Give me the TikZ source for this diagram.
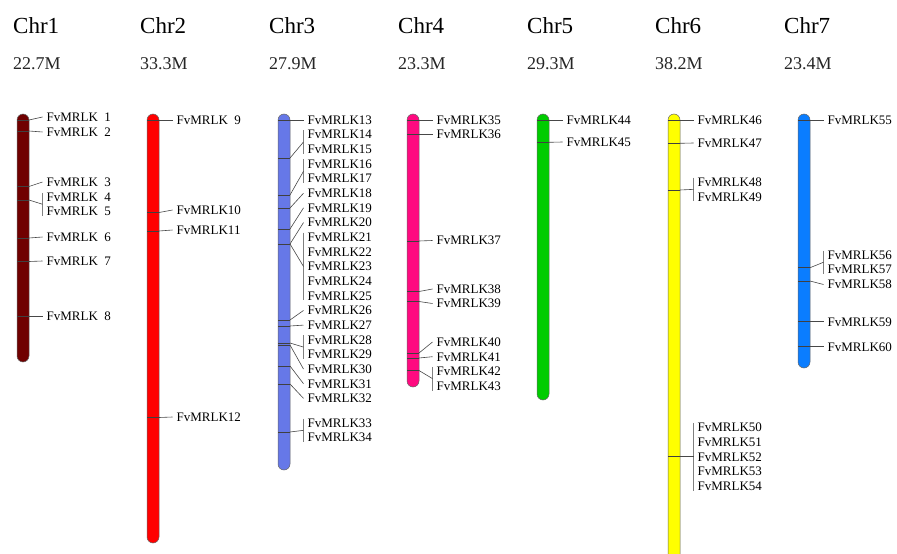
\documentclass[tikz,border=0pt]{standalone}
\usepackage{fontspec}
\setmainfont{Liberation Serif}
\usetikzlibrary{calc}
\definecolor{cA}{RGB}{112,0,0}
\definecolor{cB}{RGB}{255,0,0}
\definecolor{cC}{RGB}{102,120,232}
\definecolor{cD}{RGB}{255,10,128}
\definecolor{cE}{RGB}{0,204,0}
\definecolor{cF}{RGB}{255,255,0}
\definecolor{cG}{RGB}{10,125,255}
\newcommand{\gn}[1]{FvMRLK#1}
\newcommand{\gs}[1]{FvMRLK\hphantom{0}#1}
\begin{document}
\begin{tikzpicture}[x=1pt,y=-1pt,
  gene/.style={anchor=west, inner xsep=4pt, inner ysep=0pt, font=\fontsize{13}{15}\selectfont, text height=8.6pt, text depth=0pt},
  ttl/.style={anchor=base west, inner sep=0pt, font=\fontsize{23}{27}\selectfont},
  sz/.style={anchor=base west, inner sep=0pt, font=\fontsize{18}{21}\selectfont, text=black!85},
  conn/.style={draw=black!72, line width=0.6pt},
  brk/.style={draw=black!50, line width=0.6pt},
  mk/.style={draw=black!75, line width=0.7pt},
  chrom/.style={draw=black!60, line width=0.5pt, rounded corners=6pt}]
\useasboundingbox (0,0) rectangle (897,554);
\clip (0,0) rectangle (897,554);

% titles
\node[ttl] (t1) at (13,34) {Chr1};
\node[ttl] (t2) at (140,34) {Chr2};
\node[ttl] (t3) at (269,34) {Chr3};
\node[ttl] (t4) at (398,34) {Chr4};
\node[ttl] (t5) at (527,34) {Chr5};
\node[ttl] (t6) at (655,34) {Chr6};
\node[ttl] (t7) at (784,34) {Chr7};
\node[sz] (s1) at (13,69) {22.7M};
\node[sz] (s2) at (140,69) {33.3M};
\node[sz] (s3) at (269,69) {27.9M};
\node[sz] (s4) at (398,69) {23.3M};
\node[sz] (s5) at (527,69) {29.3M};
\node[sz] (s6) at (655,69) {38.2M};
\node[sz] (s7) at (784,69) {23.4M};

% chromosomes
\draw[chrom, fill=cA] (17,114) rectangle (29,362);
\draw[chrom, fill=cB] (147,114) rectangle (159,543);
\draw[chrom, fill=cC] (278,114) rectangle (290,470);
\draw[chrom, fill=cD] (407,114) rectangle (419,387);
\draw[chrom, fill=cE] (537,114) rectangle (549,400);
\draw[chrom, fill=cF] (668,114) rectangle (680,575);
\draw[chrom, fill=cG] (798,114) rectangle (810,368);

% ---------- Chr1
\coordinate (m1) at (29,120);
\coordinate (m2) at (29,131);
\coordinate (m3) at (29,186.5);
\coordinate (m4) at (29,200);
\coordinate (m6) at (29,238);
\coordinate (m7) at (29,261.5);
\coordinate (m8) at (29,316.5);
\node[gene] (g1) at (42.5,117) {\gs{1}};
\node[gene] (g2) at (42.5,132) {\gs{2}};
\node[gene] (g3) at (42.5,182) {\gs{3}};
\node[gene] (g4) at (42.5,197) {\gs{4}};
\node[gene] (g5) at (42.5,211.5) {\gs{5}};
\node[gene] (g6) at (42.5,237) {\gs{6}};
\node[gene] (g7) at (42.5,261) {\gs{7}};
\node[gene] (g8) at (42.5,316.5) {\gs{8}};
\foreach \m in {1,2,3,4,6,7,8} {\draw[mk] (m\m) -- ++(-12,0);}
\draw[conn] (m1) -- (g1.west);
\draw[conn] (m2) -- (g2.west);
\draw[conn] (m3) -- (g3.west);
\draw[brk] ([yshift=4.5pt]g4.west) -- ([yshift=-4.5pt]g5.west);
\draw[conn] (m4) -- ($(g4.west)!0.5!(g5.west)$);
\draw[conn] (m6) -- (g6.west);
\draw[conn] (m7) -- (g7.west);
\draw[conn] (m8) -- (g8.west);

% ---------- Chr2
\coordinate (m9) at (159,120);
\coordinate (m10) at (159,212.5);
\coordinate (m11) at (159,231);
\coordinate (m12) at (159,417.5);
\node[gene] (g9) at (172.5,120) {\gs{9}};
\node[gene] (g10) at (172.5,210) {\gn{10}};
\node[gene] (g11) at (172.5,230) {\gn{11}};
\node[gene] (g12) at (172.5,417) {\gn{12}};
\foreach \m in {9,10,11,12} {\draw[mk] (m\m) -- ++(-12,0); \draw[conn] (m\m) -- (g\m.west);}

% ---------- Chr3
\coordinate (m13) at (290,120);
\coordinate (m14) at (290,158);
\coordinate (m16) at (290,195);
\coordinate (m18) at (290,208);
\coordinate (m19) at (290,229);
\coordinate (m20) at (290,244);
\coordinate (m26) at (290,320);
\coordinate (m27) at (290,326);
\coordinate (m28) at (290,343);
\coordinate (m30) at (290,345);
\coordinate (m31) at (290,366);
\coordinate (m32) at (290,384);
\coordinate (m33) at (290,432);
\node[gene] (g13) at (303.5,120) {\gn{13}};
\node[gene] (g14) at (303.5,134.65) {\gn{14}};
\node[gene] (g15) at (303.5,149.3) {\gn{15}};
\node[gene] (g16) at (303.5,163.95) {\gn{16}};
\node[gene] (g17) at (303.5,178.6) {\gn{17}};
\node[gene] (g18) at (303.5,193.25) {\gn{18}};
\node[gene] (g19) at (303.5,207.9) {\gn{19}};
\node[gene] (g20) at (303.5,222.55) {\gn{20}};
\node[gene] (g21) at (303.5,237.2) {\gn{21}};
\node[gene] (g22) at (303.5,251.85) {\gn{22}};
\node[gene] (g23) at (303.5,266.5) {\gn{23}};
\node[gene] (g24) at (303.5,281.15) {\gn{24}};
\node[gene] (g25) at (303.5,295.8) {\gn{25}};
\node[gene] (g26) at (303.5,310.45) {\gn{26}};
\node[gene] (g27) at (303.5,325.1) {\gn{27}};
\node[gene] (g28) at (303.5,339.75) {\gn{28}};
\node[gene] (g29) at (303.5,354.4) {\gn{29}};
\node[gene] (g30) at (303.5,369.05) {\gn{30}};
\node[gene] (g31) at (303.5,383.7) {\gn{31}};
\node[gene] (g32) at (303.5,398.35) {\gn{32}};
\node[gene] (g33) at (303.5,423) {\gn{33}};
\node[gene] (g34) at (303.5,437.65) {\gn{34}};
\foreach \m in {13,14,16,18,19,20,26,27,28,30,31,32,33} {\draw[mk] (m\m) -- ++(-12,0);}
\draw[conn] (m13) -- (g13.west);
\draw[brk] ([yshift=4.5pt]g14.west) -- ([yshift=-4.5pt]g15.west);
\draw[conn] (m14) -- ($(g14.west)!0.5!(g15.west)$);
\draw[brk] ([yshift=4.5pt]g16.west) -- ([yshift=-4.5pt]g17.west);
\draw[conn] (m16) -- ($(g16.west)!0.5!(g17.west)$);
\draw[conn] (m18) -- (g18.west);
\draw[conn] (m19) -- (g19.west);
\draw[conn] (m20) -- (g20.west);
\draw[brk] ([yshift=4.5pt]g21.west) -- ([yshift=-4.5pt]g25.west);
\draw[conn] (m20) -- ($(g21.west)!0.5!(g25.west)$);
\draw[conn] (m26) -- (g26.west);
\draw[conn] (m27) -- (g27.west);
\draw[brk] ([yshift=4.5pt]g28.west) -- ([yshift=-4.5pt]g29.west);
\draw[conn] (m28) -- ($(g28.west)!0.5!(g29.west)$);
\draw[conn] (m30) -- (g30.west);
\draw[conn] (m31) -- (g31.west);
\draw[conn] (m32) -- (g32.west);
\draw[brk] ([yshift=4.5pt]g33.west) -- ([yshift=-4.5pt]g34.west);
\draw[conn] (m33) -- ($(g33.west)!0.5!(g34.west)$);

% ---------- Chr4
\coordinate (m35) at (419,120);
\coordinate (m36) at (419,134.5);
\coordinate (m37) at (419,241);
\coordinate (m38) at (419,291.5);
\coordinate (m39) at (419,301.5);
\coordinate (m40) at (419,353);
\coordinate (m41) at (419,358);
\coordinate (m42) at (419,370.5);
\node[gene] (g35) at (432.5,120) {\gn{35}};
\node[gene] (g36) at (432.5,134.5) {\gn{36}};
\node[gene] (g37) at (432.5,240.5) {\gn{37}};
\node[gene] (g38) at (432.5,289) {\gn{38}};
\node[gene] (g39) at (432.5,303.5) {\gn{39}};
\node[gene] (g40) at (432.5,342) {\gn{40}};
\node[gene] (g41) at (432.5,356.7) {\gn{41}};
\node[gene] (g42) at (432.5,371.3) {\gn{42}};
\node[gene] (g43) at (432.5,386) {\gn{43}};
\foreach \m in {35,36,37,38,39,40,41,42} {\draw[mk] (m\m) -- ++(-12,0);}
\foreach \m in {35,36,37,38,39,40,41} {\draw[conn] (m\m) -- (g\m.west);}
\draw[brk] ([yshift=4.5pt]g42.west) -- ([yshift=-4.5pt]g43.west);
\draw[conn] (m42) -- ($(g42.west)!0.5!(g43.west)$);

% ---------- Chr5
\coordinate (m44) at (549,120);
\coordinate (m45) at (549,142.3);
\node[gene] (g44) at (562.5,120) {\gn{44}};
\node[gene] (g45) at (562.5,142) {\gn{45}};
\foreach \m in {44,45} {\draw[mk] (m\m) -- ++(-12,0); \draw[conn] (m\m) -- (g\m.west);}

% ---------- Chr6
\coordinate (m46) at (680,120);
\coordinate (m47) at (680,143.3);
\coordinate (m48) at (680,190);
\coordinate (m50) at (680,456.7);
\node[gene] (g46) at (693.5,120) {\gn{46}};
\node[gene] (g47) at (693.5,143) {\gn{47}};
\node[gene] (g48) at (693.5,182) {\gn{48}};
\node[gene] (g49) at (693.5,196.7) {\gn{49}};
\node[gene] (g50) at (693.5,427.4) {\gn{50}};
\node[gene] (g51) at (693.5,442) {\gn{51}};
\node[gene] (g52) at (693.5,456.7) {\gn{52}};
\node[gene] (g53) at (693.5,471.3) {\gn{53}};
\node[gene] (g54) at (693.5,486) {\gn{54}};
\foreach \m in {46,47,48,50} {\draw[mk] (m\m) -- ++(-12,0);}
\draw[conn] (m46) -- (g46.west);
\draw[conn] (m47) -- (g47.west);
\draw[brk] ([yshift=4.5pt]g48.west) -- ([yshift=-4.5pt]g49.west);
\draw[conn] (m48) -- ($(g48.west)!0.5!(g49.west)$);
\draw[brk] ([yshift=4.5pt]g50.west) -- ([yshift=-4.5pt]g54.west);
\draw[conn] (m50) -- ($(g50.west)!0.5!(g54.west)$);

% ---------- Chr7
\coordinate (m55) at (810,120);
\coordinate (m56) at (810,267.7);
\coordinate (m58) at (810,281);
\coordinate (m59) at (810,321.7);
\coordinate (m60) at (810,346.7);
\node[gene] (g55) at (823.5,120) {\gn{55}};
\node[gene] (g56) at (823.5,255) {\gn{56}};
\node[gene] (g57) at (823.5,269.5) {\gn{57}};
\node[gene] (g58) at (823.5,284.5) {\gn{58}};
\node[gene] (g59) at (823.5,321.7) {\gn{59}};
\node[gene] (g60) at (823.5,346.7) {\gn{60}};
\foreach \m in {55,56,58,59,60} {\draw[mk] (m\m) -- ++(-12,0);}
\draw[conn] (m55) -- (g55.west);
\draw[brk] ([yshift=4.5pt]g56.west) -- ([yshift=-4.5pt]g57.west);
\draw[conn] (m56) -- ($(g56.west)!0.5!(g57.west)$);
\draw[conn] (m58) -- (g58.west);
\draw[conn] (m59) -- (g59.west);
\draw[conn] (m60) -- (g60.west);
\end{tikzpicture}
\end{document}
